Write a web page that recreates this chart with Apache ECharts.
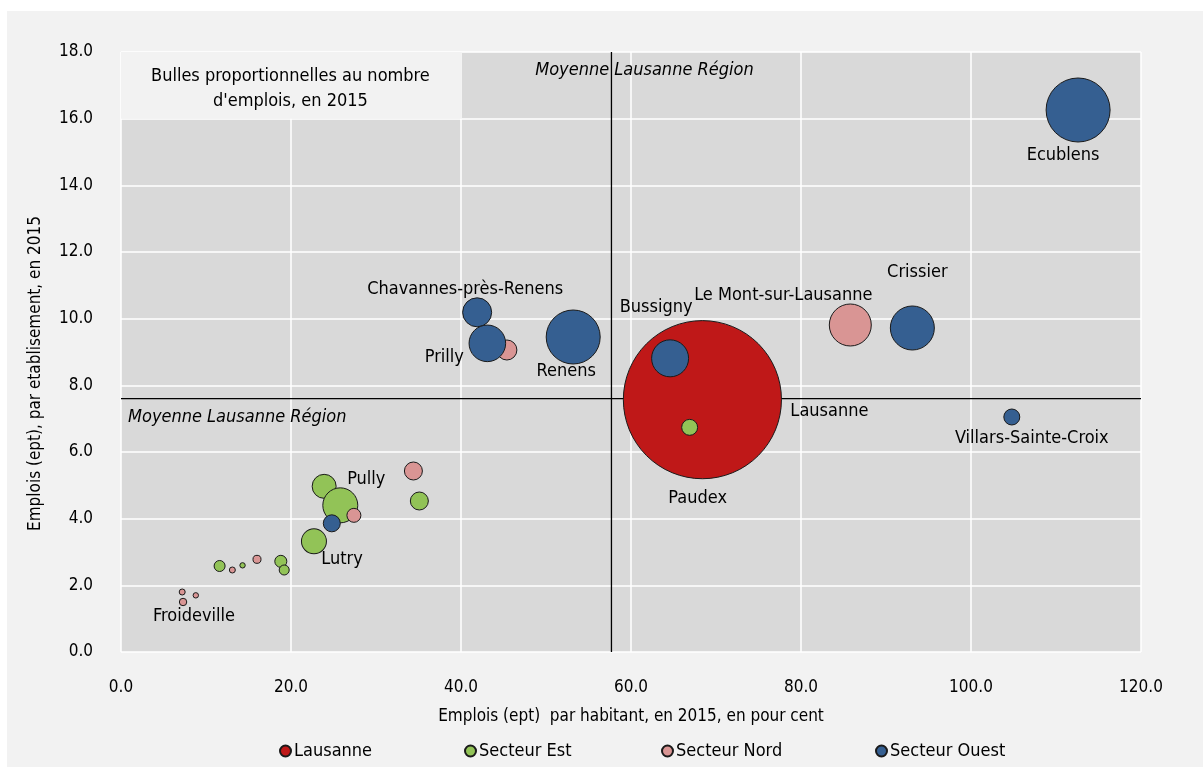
<!DOCTYPE html>
<html>
<head>
<meta charset="utf-8">
<script src="https://cdn.jsdelivr.net/npm/echarts@6/dist/echarts.min.js"></script>
<style>
html,body{margin:0;padding:0;background:#fff;}
#chart{width:1203px;height:767px;}
</style>
</head>
<body>
<div id="chart"></div>
<script>
// ---------- DATA ----------
const xTicks = [0, 20, 40, 60, 80, 100, 120];
const yTicks = [0, 2, 4, 6, 8, 10, 12, 14, 16, 18];
const sectors = ['Lausanne', 'Secteur Est', 'Secteur Nord', 'Secteur Ouest'];

const lausanneNames = ['Lausanne'];
const lausanneX = [68.4];
const lausanneY = [7.57];
const lausanneEmplois = [95000];

const estNames = ['', 'Pully', 'Lutry', 'Paudex', '', '', '', '', ''];
const estX = [23.9, 25.8, 22.7, 66.9, 35.1, 11.6, 14.3, 18.8, 19.2];
const estY = [4.97, 4.40, 3.32, 6.74, 4.53, 2.58, 2.60, 2.72, 2.46];
const estEmplois = [2190, 4650, 2375, 970, 1230, 460, 110, 550, 380];

const nordNames = ['Le Mont-sur-Lausanne', '', '', '', '', '', '', '', 'Froideville'];
const nordX = [85.8, 45.4, 27.4, 34.4, 13.1, 16.0, 7.2, 8.8, 7.3];
const nordY = [9.81, 9.06, 4.10, 5.43, 2.46, 2.78, 1.80, 1.70, 1.50];
const nordEmplois = [6700, 1520, 745, 1230, 137, 245, 137, 111, 210];

const ouestNames = ['Ecublens', 'Crissier', 'Villars-Sainte-Croix', 'Bussigny', 'Chavannes-près-Renens', 'Prilly', 'Renens', ''];
const ouestX = [112.6, 93.1, 104.8, 64.6, 41.9, 43.1, 53.2, 24.8];
const ouestY = [16.26, 9.72, 7.05, 8.81, 10.19, 9.26, 9.45, 3.86];
const ouestEmplois = [15570, 7360, 970, 5200, 3200, 5090, 11080, 1100];

const meanX = 57.7;   // Moyenne Lausanne Région (x)
const meanY = 7.6;    // Moyenne Lausanne Région (y)

const xTitle = 'Emplois (ept)  par habitant, en 2015, en pour cent';
const yTitle = 'Emplois (ept), par etablisement, en 2015';
const boxText = "Bulles proportionnelles au nombre\nd'emplois, en 2015";
const meanText = 'Moyenne Lausanne Région';

// ---------- STYLE ----------
const FONT = '"DejaVu Sans Condensed","Liberation Sans Narrow","Arial Narrow",sans-serif';
const colors = ['#BF1818', '#92C357', '#D99594', '#355F91'];
const K = 0.513;
const labelOffsets = {
  'Ecublens': [-15, 45],
  'Crissier': [5, -56],
  'Le Mont-sur-Lausanne': [-67, -30],
  'Bussigny': [-14, -51],
  'Lausanne': [127, 12],
  'Villars-Sainte-Croix': [20, 21],
  'Paudex': [8, 71],
  'Chavannes-près-Renens': [-12, -23],
  'Prilly': [-43, 14],
  'Renens': [-7, 34],
  'Pully': [26, -26],
  'Lutry': [28, 18],
  'Froideville': [11, 14]
};

function build(names, xs, ys, emp) {
  return xs.map((x, i) => {
    const d = { name: names[i], value: [x, ys[i], emp[i]] };
    const off = labelOffsets[names[i]];
    if (off) {
      d.label = { show: true, position: 'inside', offset: off, formatter: '{b}',
        color: '#000', fontSize: 18, fontFamily: FONT };
    }
    return d;
  });
}

function bubble(name, data, color) {
  return {
    name: name, type: 'scatter', z: 2, data: data,
    symbolSize: v => Math.sqrt(v[2]) * K,
    itemStyle: { color: color, borderColor: '#1a1a1a', borderWidth: 1, opacity: 1 },
    label: { show: false },
    emphasis: { disabled: true },
    animation: false
  };
}

const chart = echarts.init(document.getElementById('chart'), null, { renderer: 'canvas' });

const axisLabel = { color: '#000', fontSize: 17, fontFamily: FONT, formatter: v => v.toFixed(1) };
const legendPos = [279, 464, 661, 875];

const option = {
  backgroundColor: '#f2f2f2',
  animation: false,
  textStyle: { fontFamily: FONT },
  grid: { left: 121, right: 62, top: 52, bottom: 115, show: true, backgroundColor: '#d9d9d9', borderWidth: 0 },
  xAxis: {
    type: 'value', min: xTicks[0], max: xTicks[xTicks.length - 1], interval: xTicks[1] - xTicks[0],
    axisLine: { show: false }, axisTick: { show: false },
    splitLine: { show: true, lineStyle: { color: '#ffffff', width: 1.5 } },
    axisLabel: Object.assign({ margin: 27 }, axisLabel),
    name: xTitle, nameLocation: 'middle', nameGap: 56,
    nameTextStyle: { color: '#000', fontSize: 17, fontFamily: FONT }
  },
  yAxis: {
    type: 'value', min: yTicks[0], max: yTicks[yTicks.length - 1], interval: yTicks[1] - yTicks[0],
    axisLine: { show: false }, axisTick: { show: false },
    splitLine: { show: true, lineStyle: { color: '#ffffff', width: 1.5 } },
    axisLabel: Object.assign({ margin: 28 }, axisLabel)
  },
  legend: sectors.map((s, i) => ({
    data: [s], left: legendPos[i], top: 742, icon: 'circle', itemWidth: 11, itemHeight: 11, itemGap: 0,
    textStyle: { color: '#000', fontSize: 18, fontFamily: FONT, padding: [0, 0, 0, -2] },
    selectedMode: false, padding: 0
  })),
  series: [
    { type: 'line', z: 1, silent: true, symbol: 'none', data: [[meanX, yTicks[0]], [meanX, yTicks[yTicks.length - 1]]],
      lineStyle: { color: '#000', width: 1.3 }, animation: false },
    { type: 'line', z: 1, silent: true, symbol: 'none', data: [[xTicks[0], meanY], [xTicks[xTicks.length - 1], meanY]],
      lineStyle: { color: '#000', width: 1.3 }, animation: false },
    bubble(sectors[0], build(lausanneNames, lausanneX, lausanneY, lausanneEmplois), colors[0]),
    bubble(sectors[1], build(estNames, estX, estY, estEmplois), colors[1]),
    bubble(sectors[2], build(nordNames, nordX, nordY, nordEmplois), colors[2]),
    bubble(sectors[3], build(ouestNames, ouestX, ouestY, ouestEmplois), colors[3])
  ]
};
chart.setOption(option);

// Annotations placed through the chart's own scales
const pTopLeft = chart.convertToPixel({ gridIndex: 0 }, [0, 18]);
const pBottom = chart.convertToPixel({ gridIndex: 0 }, [0, 0]);
const pBox = chart.convertToPixel({ gridIndex: 0 }, [40.1, 16]);
const pMeanTop = chart.convertToPixel({ gridIndex: 0 }, [meanX, 18]);
const pMeanLeft = chart.convertToPixel({ gridIndex: 0 }, [0, meanY]);

chart.setOption({
  graphic: [
    { type: 'rect', shape: { x: 0, y: 0, width: 1203, height: 11 }, style: { fill: '#ffffff' }, z: 0 },
    { type: 'rect', shape: { x: 0, y: 0, width: 7, height: 767 }, style: { fill: '#ffffff' }, z: 0 },
    { type: 'rect', shape: { x: pTopLeft[0], y: pTopLeft[1], width: pBox[0] - pTopLeft[0], height: pBox[1] - pTopLeft[1] },
      style: { fill: '#f2f2f2' }, z: 5 },
    { type: 'text', z: 6, x: (pTopLeft[0] + pBox[0]) / 2 - 1, y: pTopLeft[1] + 12,
      style: { text: boxText, fill: '#000', font: '18px ' + FONT, textAlign: 'center', textVerticalAlign: 'top', lineHeight: 25 } },
    { type: 'text', z: 6, x: pMeanTop[0] + 33, y: pMeanTop[1] + 18,
      style: { text: meanText, fill: '#000', font: 'italic 18px ' + FONT, textAlign: 'center', textVerticalAlign: 'middle' } },
    { type: 'text', z: 6, x: pMeanLeft[0] + 7, y: pMeanLeft[1] + 19,
      style: { text: meanText, fill: '#000', font: 'italic 18px ' + FONT, textAlign: 'left', textVerticalAlign: 'middle' } },
    { type: 'text', z: 6, x: 36, y: pBottom[1] - 121, rotation: Math.PI / 2,
      style: { text: yTitle, fill: '#000', font: '17px ' + FONT, textAlign: 'left', textVerticalAlign: 'middle' } }
  ]
});
</script>
</body>
</html>
